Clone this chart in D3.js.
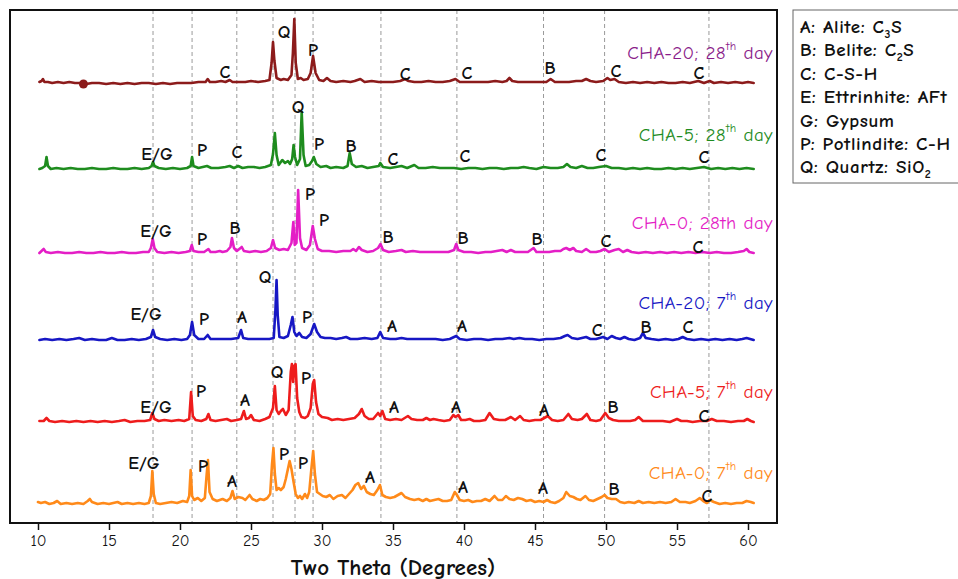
<!DOCTYPE html>
<html>
<head>
<meta charset="utf-8">
<script src="https://cdn.jsdelivr.net/npm/d3@7/dist/d3.min.js"></script>
<style>
  html, body { margin: 0; padding: 0; background: #fff; }
  svg { display: block; }
</style>
</head>
<body>
<svg id="chart" width="958" height="579"></svg>
<script>
// ---- Data: XRD patterns, [2θ (degrees), intensity above the series baseline (a.u.)] ----
const seriesNames = ["CHA-20; 28", "CHA-5; 28", "CHA-0; 28th day", "CHA-20; 7", "CHA-5; 7", "CHA-0; 7"];
const seriesSuffix = ["th", "th", "", "th", "th", "th"];
const seriesTail = [" day", " day", "", " day", " day", " day"];
const seriesOffsets = [440, 354, 270, 183, 101, 19];
const lineColors = ["#8c1b1b", "#1e8c1e", "#e41ec6", "#1717c4", "#ee1c1c", "#ff8a1a"];
const labelColors = ["#8a1c8a", "#1e8c1e", "#e41ec6", "#1717c4", "#ee1c1c", "#ff8a1a"];

const cha20d28 = [[10.1,1],[10.25,2],[10.35,4],[10.45,1],[10.7,1],[11.0,0],[11.4,1],[11.8,0],[12.2,1],[12.6,0],[13.0,0],[13.4,-1],[13.8,0],[14.3,0],[14.8,-1],[15.3,0],[15.8,-1],[16.3,0],[16.8,-1],[17.3,0],[17.8,0],[18.3,-1],[18.8,0],[19.3,-1],[19.8,0],[20.3,0],[20.8,0],[21.3,1],[21.8,1],[21.95,4],[22.1,1],[22.5,1],[22.9,2],[23.2,1],[23.5,3],[23.7,1],[24.1,1],[24.6,1],[25.0,2],[25.5,1],[26.0,2],[26.3,3],[26.45,20],[26.55,41],[26.65,22],[26.8,5],[27.1,3],[27.3,4],[27.6,3],[27.85,8],[27.95,30],[28.05,64],[28.15,20],[28.3,4],[28.5,5],[28.7,3],[29.0,4],[29.2,10],[29.37,27],[29.55,10],[29.8,3],[30.1,2],[30.35,5],[30.6,2],[31.0,1],[31.5,2],[32.0,1],[32.3,2],[32.7,4],[33.0,1],[33.5,2],[34.0,1],[34.5,1],[35.0,1],[35.5,2],[35.85,4],[36.1,2],[36.5,1],[37.0,1],[37.5,2],[38.0,1],[38.5,1],[39.0,2],[39.4,4],[39.7,1],[40.2,1],[40.7,1],[41.2,1],[41.7,1],[42.2,2],[42.7,1],[43.0,2],[43.2,5],[43.4,2],[43.8,1],[44.3,1],[44.8,1],[45.3,1],[45.8,1],[46.1,4],[46.4,1],[46.9,1],[47.4,1],[47.9,2],[48.3,2],[48.6,4],[48.9,2],[49.3,1],[49.8,2],[50.1,5],[50.3,3],[50.6,4],[50.9,1],[51.4,0],[51.9,1],[52.4,0],[52.9,1],[53.4,0],[53.9,1],[54.4,0],[54.9,0],[55.4,1],[55.9,0],[56.5,2],[56.9,0],[57.3,2],[57.6,0],[58.1,1],[58.6,0],[59.1,1],[59.6,0],[60.0,1],[60.4,0]];

const cha5d28 = [[10.1,0],[10.3,1],[10.5,3],[10.6,12],[10.7,3],[10.9,0],[11.3,1],[11.8,0],[12.3,1],[12.8,0],[13.3,0],[13.8,1],[14.3,0],[14.8,0],[15.3,1],[15.8,0],[16.3,0],[16.8,1],[17.3,0],[17.8,1],[18.0,3],[18.1,7],[18.2,3],[18.5,1],[19.0,0],[19.5,1],[20.0,0],[20.5,1],[20.75,3],[20.85,12],[20.95,3],[21.3,1],[21.6,2],[21.9,3],[22.2,1],[22.7,1],[23.2,2],[23.5,3],[23.8,1],[24.1,3],[24.4,1],[24.8,2],[25.2,2],[25.6,1],[26.0,2],[26.4,4],[26.55,15],[26.68,36],[26.8,14],[26.95,4],[27.2,9],[27.4,6],[27.6,8],[27.75,5],[27.9,10],[28.0,24],[28.1,12],[28.25,4],[28.45,10],[28.57,57],[28.7,14],[28.85,3],[29.1,4],[29.3,8],[29.42,12],[29.6,5],[29.9,2],[30.3,3],[30.6,1],[31.0,2],[31.5,1],[31.8,3],[31.95,16],[32.1,5],[32.4,2],[32.8,3],[33.2,1],[33.6,2],[34.0,3],[34.1,6],[34.3,2],[34.8,1],[35.2,2],[35.6,3],[36.0,1],[36.5,4],[36.8,1],[37.3,1],[37.8,2],[38.3,1],[38.8,1],[39.3,1],[39.8,0],[40.3,1],[40.8,1],[41.3,0],[41.8,1],[42.3,1],[42.8,0],[43.3,1],[43.8,1],[44.2,2],[44.6,1],[45.1,0],[45.6,2],[46.1,1],[46.6,1],[47.0,2],[47.25,5],[47.5,2],[47.9,1],[48.3,3],[48.7,1],[49.1,1],[49.5,2],[50.0,3],[50.4,1],[50.9,1],[51.4,0],[51.9,1],[52.4,0],[52.9,1],[53.4,0],[53.9,0],[54.4,1],[54.9,0],[55.4,1],[55.9,0],[56.4,1],[56.9,2],[57.4,0],[57.9,1],[58.4,0],[58.9,1],[59.4,0],[59.9,1],[60.4,0]];

const cha0d28 = [[10.1,0],[10.25,2],[10.4,4],[10.55,1],[10.9,0],[11.4,1],[11.9,0],[12.4,0],[12.9,1],[13.4,0],[13.9,0],[14.4,1],[14.9,0],[15.4,0],[15.9,1],[16.4,0],[16.9,0],[17.4,1],[17.8,1],[17.95,5],[18.08,14],[18.2,5],[18.4,1],[18.9,0],[19.4,1],[19.9,0],[20.4,1],[20.7,2],[20.83,8],[20.95,2],[21.3,1],[21.7,1],[22.0,4],[22.15,1],[22.5,1],[22.8,2],[23.0,1],[23.3,2],[23.55,6],[23.66,15],[23.8,5],[24.0,2],[24.35,6],[24.5,2],[24.9,1],[25.3,2],[25.7,1],[26.1,2],[26.4,5],[26.55,13],[26.7,5],[27.0,3],[27.3,4],[27.6,3],[27.85,10],[27.98,31],[28.08,8],[28.2,10],[28.32,63],[28.45,15],[28.6,5],[28.9,3],[29.15,8],[29.35,27],[29.5,14],[29.7,4],[30.0,2],[30.5,2],[31.0,1],[31.5,2],[32.0,2],[32.2,4],[32.4,2],[32.6,6],[32.8,3],[33.2,1],[33.6,2],[33.95,5],[34.12,9],[34.3,3],[34.7,1],[35.2,2],[35.6,3],[35.9,1],[36.4,2],[36.9,1],[37.4,1],[37.9,1],[38.4,1],[38.9,1],[39.3,3],[39.45,9],[39.6,3],[40.0,1],[40.5,1],[41.0,0],[41.5,1],[41.9,1],[42.3,2],[42.7,3],[43.0,1],[43.3,3],[43.6,1],[44.0,1],[44.5,1],[44.9,5],[45.1,1],[45.5,1],[46.0,1],[46.4,2],[46.8,2],[47.0,4],[47.2,5],[47.45,3],[47.7,5],[47.9,2],[48.3,1],[48.6,4],[48.9,1],[49.3,1],[49.6,2],[49.9,4],[50.2,1],[50.6,3],[50.9,4],[51.2,1],[51.5,3],[51.8,1],[52.3,0],[52.8,1],[53.3,0],[53.8,1],[54.3,0],[54.8,1],[55.3,0],[55.8,1],[56.3,0],[56.8,1],[57.3,0],[57.8,1],[58.3,0],[58.8,0],[59.3,1],[59.7,2],[59.9,4],[60.1,1],[60.4,0]];

const cha20d7 = [[10.1,0],[10.5,1],[11.0,0],[11.5,1],[12.0,0],[12.5,1],[12.9,2],[13.3,0],[13.8,1],[14.3,0],[14.8,0],[15.2,2],[15.6,0],[16.1,0],[16.6,1],[17.1,0],[17.6,1],[17.95,3],[18.1,10],[18.25,3],[18.6,1],[19.1,0],[19.6,1],[20.1,0],[20.5,1],[20.7,5],[20.85,18],[21.0,5],[21.3,1],[21.7,1],[21.95,5],[22.15,1],[22.6,1],[23.1,1],[23.6,1],[24.1,2],[24.3,10],[24.45,2],[24.8,1],[25.3,1],[25.8,1],[26.3,1],[26.6,2],[26.72,30],[26.8,60],[26.88,25],[27.0,3],[27.3,2],[27.6,4],[27.8,15],[27.92,23],[28.05,8],[28.2,4],[28.4,7],[28.6,3],[28.9,2],[29.2,6],[29.45,16],[29.65,8],[29.9,3],[30.2,2],[30.6,2],[31.0,1],[31.4,2],[31.7,3],[32.0,1],[32.5,1],[33.0,2],[33.5,1],[33.9,2],[34.1,8],[34.3,2],[34.8,1],[35.2,1],[35.6,2],[36.0,1],[36.5,1],[37.0,1],[37.5,1],[38.0,1],[38.5,0],[39.0,1],[39.45,4],[39.7,1],[40.2,0],[40.7,1],[41.2,1],[41.7,0],[42.2,1],[42.7,1],[43.2,2],[43.5,1],[43.9,2],[44.3,1],[44.8,1],[45.3,0],[45.8,1],[46.3,1],[46.8,2],[47.1,4],[47.3,5],[47.6,2],[48.0,1],[48.3,2],[48.6,3],[48.9,1],[49.3,1],[49.8,3],[50.1,1],[50.4,4],[50.7,2],[51.0,1],[51.3,3],[51.6,1],[52.0,0],[52.4,2],[52.6,7],[52.8,2],[53.2,1],[53.7,0],[54.2,1],[54.7,0],[55.1,1],[55.4,3],[55.7,1],[56.2,0],[56.7,1],[57.2,0],[57.7,1],[58.2,0],[58.7,1],[59.2,0],[59.6,1],[59.9,2],[60.4,0]];

const cha5d7 = [[10.1,1],[10.4,1],[10.6,4],[10.8,1],[11.2,0],[11.7,1],[12.2,0],[12.7,1],[13.2,0],[13.7,1],[14.2,0],[14.7,1],[15.2,0],[15.7,1],[16.1,2],[16.5,0],[17.0,1],[17.5,1],[17.9,2],[18.05,9],[18.2,3],[18.5,1],[18.9,2],[19.4,1],[19.9,2],[20.3,1],[20.65,3],[20.78,30],[20.9,6],[21.1,2],[21.5,1],[21.85,3],[22.0,8],[22.15,2],[22.5,1],[22.9,2],[23.3,3],[23.6,1],[24.0,2],[24.3,3],[24.5,11],[24.65,3],[24.85,4],[25.0,7],[25.2,2],[25.6,1],[26.0,3],[26.3,5],[26.55,14],[26.68,36],[26.8,12],[26.95,8],[27.1,11],[27.25,13],[27.45,7],[27.65,12],[27.8,50],[27.88,58],[27.97,40],[28.05,56],[28.14,58],[28.25,24],[28.4,10],[28.55,5],[28.8,4],[29.0,6],[29.2,14],[29.35,38],[29.45,42],[29.58,20],[29.75,8],[30.0,5],[30.4,4],[30.7,2],[31.1,3],[31.5,2],[31.9,3],[32.3,4],[32.6,8],[32.8,13],[33.0,6],[33.3,3],[33.6,3],[33.95,9],[34.1,6],[34.25,11],[34.45,3],[34.8,2],[35.2,3],[35.6,2],[36.05,6],[36.3,3],[36.7,2],[37.1,2],[37.35,4],[37.6,2],[37.85,3],[38.2,2],[38.6,1],[39.0,2],[39.25,7],[39.4,5],[39.6,7],[39.8,2],[40.1,2],[40.4,3],[40.7,1],[41.1,1],[41.5,2],[41.8,9],[42.1,3],[42.5,2],[42.9,2],[43.3,5],[43.6,2],[43.95,6],[44.2,2],[44.6,1],[45.0,2],[45.4,2],[45.9,6],[46.2,2],[46.6,1],[47.0,2],[47.35,8],[47.6,3],[48.0,2],[48.3,3],[48.65,8],[48.9,2],[49.3,1],[49.6,2],[49.95,9],[50.2,4],[50.5,2],[50.9,1],[51.3,1],[51.7,1],[52.05,2],[52.3,5],[52.6,1],[53.0,1],[53.5,1],[54.0,1],[54.5,0],[55.0,3],[55.3,1],[55.7,1],[56.1,0],[56.6,1],[57.1,1],[57.45,3],[57.8,1],[58.3,1],[58.8,0],[59.3,1],[59.7,1],[59.95,3],[60.2,1],[60.4,0]];

const cha0d7 = [[10.0,2],[10.2,1],[10.5,2],[10.8,0],[11.1,1],[11.35,3],[11.6,0],[12.0,1],[12.4,0],[12.8,1],[13.2,0],[13.5,3],[13.65,5],[13.8,2],[14.2,0],[14.6,1],[15.0,0],[15.3,1],[15.6,2],[15.9,0],[16.3,1],[16.7,0],[17.1,1],[17.5,0],[17.8,1],[17.95,8],[18.05,33],[18.15,10],[18.3,1],[18.6,0],[19.0,1],[19.4,2],[19.8,1],[20.2,3],[20.5,2],[20.65,8],[20.75,34],[20.85,8],[21.0,4],[21.25,6],[21.5,3],[21.75,6],[21.88,30],[21.97,44],[22.08,12],[22.3,5],[22.6,3],[23.0,5],[23.3,3],[23.55,6],[23.7,13],[23.85,5],[24.1,7],[24.4,6],[24.6,4],[24.9,9],[25.1,5],[25.4,3],[25.65,5],[25.9,4],[26.15,6],[26.35,10],[26.48,40],[26.58,56],[26.68,30],[26.8,14],[26.95,16],[27.1,14],[27.3,17],[27.45,25],[27.6,35],[27.72,43],[27.85,35],[28.0,22],[28.15,10],[28.3,6],[28.45,8],[28.6,5],[28.8,10],[28.95,6],[29.1,12],[29.25,35],[29.38,53],[29.5,30],[29.65,12],[29.85,10],[30.05,8],[30.3,7],[30.55,9],[30.8,5],[31.1,8],[31.4,9],[31.65,6],[31.9,10],[32.15,14],[32.35,19],[32.55,21],[32.75,15],[32.95,18],[33.15,12],[33.4,10],[33.65,9],[33.9,14],[34.08,19],[34.25,9],[34.5,7],[34.8,6],[35.1,7],[35.35,9],[35.6,11],[35.85,7],[36.2,5],[36.5,4],[36.8,5],[37.1,3],[37.35,5],[37.6,3],[37.9,4],[38.2,5],[38.5,3],[38.8,3],[39.1,4],[39.35,12],[39.5,9],[39.7,4],[40.0,3],[40.3,4],[40.6,2],[40.9,3],[41.2,3],[41.5,5],[41.8,3],[42.15,8],[42.4,4],[42.7,4],[42.95,8],[43.2,5],[43.5,4],[43.8,6],[44.1,5],[44.4,3],[44.7,4],[45.0,2],[45.3,3],[45.6,2],[45.85,4],[46.1,2],[46.4,1],[46.7,3],[47.0,6],[47.2,12],[47.45,8],[47.7,7],[47.95,5],[48.2,4],[48.55,8],[48.8,4],[49.1,3],[49.4,5],[49.7,7],[49.9,9],[50.1,6],[50.4,5],[50.7,5],[51.0,2],[51.3,1],[51.6,2],[52.0,1],[52.3,3],[52.6,1],[53.0,2],[53.4,1],[53.8,2],[54.2,1],[54.6,2],[54.9,5],[55.2,2],[55.6,2],[55.9,1],[56.3,3],[56.6,6],[56.85,3],[57.1,1],[57.3,4],[57.6,2],[58.0,0],[58.4,1],[58.8,0],[59.2,1],[59.6,1],[59.9,3],[60.2,2],[60.4,1]];

const patterns = [cha20d28, cha5d28, cha0d28, cha20d7, cha5d7, cha0d7];

// Marked point on the CHA-20 (28 d) trace
const markedPoints = [[13.2, -1]];

// Phase identification letters: [series index, letter, 2θ, absolute intensity level]
const phaseLabels = [
  [0,"C",23.17,451],[0,"Q",27.32,491],[0,"P",29.37,473],[0,"C",35.85,449],[0,"C",40.21,450],[0,"B",46.06,455],[0,"C",50.70,452],[0,"C",56.55,450],
  [1,"E/G",18.38,369],[1,"P",21.55,373],[1,"C",24.01,371],[1,"Q",28.31,416],[1,"P",29.79,379],[1,"B",32.04,377],[1,"C",35.0,364],[1,"C",40.07,367],[1,"C",49.65,368],[1,"C",56.9,366],
  [2,"E/G",18.31,292],[2,"P",21.55,284],[2,"B",23.87,295],[2,"P",29.15,329],[2,"P",30.14,303],[2,"B",34.65,286],[2,"B",39.93,285],[2,"B",45.14,284],[2,"C",50.0,282],[2,"C",56.48,276],
  [3,"E/G",17.61,209],[3,"P",21.69,204],[3,"A",24.37,206],[3,"Q",25.99,246],[3,"P",28.94,206],[3,"A",34.93,197],[3,"A",39.86,197],[3,"C",49.37,193],[3,"B",52.82,196],[3,"C",55.77,196],
  [4,"E/G",18.31,116],[4,"P",21.48,132],[4,"A",24.58,123],[4,"Q",26.83,151],[4,"P",28.87,145],[4,"A",35.07,116],[4,"A",39.44,116],[4,"A",45.63,113],[4,"B",50.49,116],[4,"C",56.9,107],
  [5,"E/G",17.46,60],[5,"P",21.62,57],[5,"A",23.66,42],[5,"P",27.32,69],[5,"P",28.66,60],[5,"A",33.38,46],[5,"A",39.93,36],[5,"A",45.56,35],[5,"B",50.56,34],[5,"C",57.11,27]
];

// Series name label levels (absolute intensity)
const seriesLabelLevels = [470, 388, 300, 220, 131, 50];

// Reference reflection positions (dashed guides)
const guideLines = [18.1, 20.85, 24.0, 26.55, 28.1, 29.37, 34.15, 39.5, 45.6, 49.9, 57.25];

const xTicks = [10, 15, 20, 25, 30, 35, 40, 45, 50, 55, 60];

// Phase key
const keyRows = [
  [["A: Alite: C"], ["3", "sub"], ["S"]],
  [["B: Belite: C"], ["2", "sub"], ["S"]],
  [["C: C-S-H"]],
  [["E: Ettrinhite: AFt"]],
  [["G: Gypsum"]],
  [["P: Potlindite: C-H"]],
  [["Q: Quartz: SiO"], ["2", "sub"]]
];

// ---- Layout ----
const frame = { left: 10, top: 10, right: 777, bottom: 523 };
const svg = d3.select("#chart");
const FONT = '"Comic Sans MS", "Comic Neue", Lato, "DejaVu Sans", sans-serif';

const x = d3.scaleLinear().domain([10, 60]).range([38, 748]);
const y = d3.scaleLinear().domain([0, 513]).range([frame.bottom, frame.top]);

svg.append("defs").append("clipPath").attr("id", "plotClip")
  .append("rect")
  .attr("x", frame.left).attr("y", frame.top)
  .attr("width", frame.right - frame.left).attr("height", frame.bottom - frame.top);

// Dashed guides
svg.append("g").selectAll("line").data(guideLines).join("line")
  .attr("x1", d => x(d)).attr("x2", d => x(d))
  .attr("y1", frame.top).attr("y2", frame.bottom)
  .attr("stroke", "#9a9a9a").attr("stroke-width", 1)
  .attr("stroke-dasharray", "4,3");

// Patterns
const plot = svg.append("g").attr("clip-path", "url(#plotClip)");
patterns.forEach((pts, i) => {
  const off = seriesOffsets[i];
  const line = d3.line().x(d => x(d[0])).y(d => y(d[1] + off));
  plot.append("path")
    .datum(pts)
    .attr("d", line)
    .attr("fill", "none")
    .attr("stroke", lineColors[i])
    .attr("stroke-width", 2.6)
    .attr("stroke-linejoin", "round")
    .attr("stroke-linecap", "round");
});

plot.selectAll("circle.mark").data(markedPoints).join("circle")
  .attr("class", "mark")
  .attr("cx", d => x(d[0]))
  .attr("cy", d => y(d[1] + seriesOffsets[0]))
  .attr("r", 4.5)
  .attr("fill", lineColors[0]);

// Phase letters
svg.append("g").selectAll("text").data(phaseLabels).join("text")
  .attr("x", d => x(d[2]))
  .attr("y", d => y(d[3]))
  .attr("text-anchor", "middle")
  .attr("dominant-baseline", "central")
  .style("font-family", FONT)
  .style("font-size", "18px")
  .style("font-weight", "bold")
  .attr("fill", "#111")
  .text(d => d[1]);

// Series names
const nameG = svg.append("g");
seriesNames.forEach((name, i) => {
  const t = nameG.append("text")
    .attr("x", frame.right - 4)
    .attr("y", y(seriesLabelLevels[i]))
    .attr("text-anchor", "end")
    .attr("dominant-baseline", "central")
    .style("font-family", FONT)
    .style("font-size", "19px")
    .style("letter-spacing", "0.4px")
    .attr("fill", labelColors[i]);
  t.append("tspan").text(name);
  if (seriesSuffix[i]) {
    t.append("tspan").attr("dy", -7).style("font-size", "12px").text(seriesSuffix[i]);
    t.append("tspan").attr("dy", 7).text(seriesTail[i]);
  }
});

// Frame
svg.append("rect")
  .attr("x", frame.left).attr("y", frame.top)
  .attr("width", frame.right - frame.left).attr("height", frame.bottom - frame.top)
  .attr("fill", "none").attr("stroke", "#111").attr("stroke-width", 2);

// Bottom axis
const axis = svg.append("g")
  .attr("transform", `translate(0,${frame.bottom})`)
  .call(d3.axisBottom(x).tickValues(xTicks).tickSize(7).tickPadding(5).tickFormat(d3.format("d")));
axis.select(".domain").remove();
axis.selectAll(".tick line").attr("stroke", "#111").attr("stroke-width", 1.5);
axis.selectAll(".tick text")
  .style("font-family", FONT).style("font-size", "16px").attr("fill", "#111");

svg.append("text")
  .attr("x", 393)
  .attr("y", 567)
  .attr("text-anchor", "middle")
  .attr("dominant-baseline", "central")
  .style("font-family", FONT)
  .style("font-size", "23px")
  .style("font-weight", "bold")
  .attr("fill", "#111")
  .text("Two Theta (Degrees)");

// Phase key box
const key = svg.append("g");
key.append("rect")
  .attr("x", 793).attr("y", 10).attr("width", 180).attr("height", 173)
  .attr("fill", "#fff").attr("stroke", "#666").attr("stroke-width", 1);
keyRows.forEach((parts, i) => {
  const t = key.append("text")
    .attr("x", 800).attr("y", 27 + i * 23.4)
    .attr("dominant-baseline", "central")
    .style("font-family", FONT).style("font-size", "19px").style("font-weight", "bold")
    .style("letter-spacing", "0.6px")
    .attr("fill", "#111");
  parts.forEach(p => {
    const s = t.append("tspan").text(p[0]);
    if (p[1] === "sub") s.attr("baseline-shift", "sub").style("font-size", "12px");
  });
});
</script>
</body>
</html>
